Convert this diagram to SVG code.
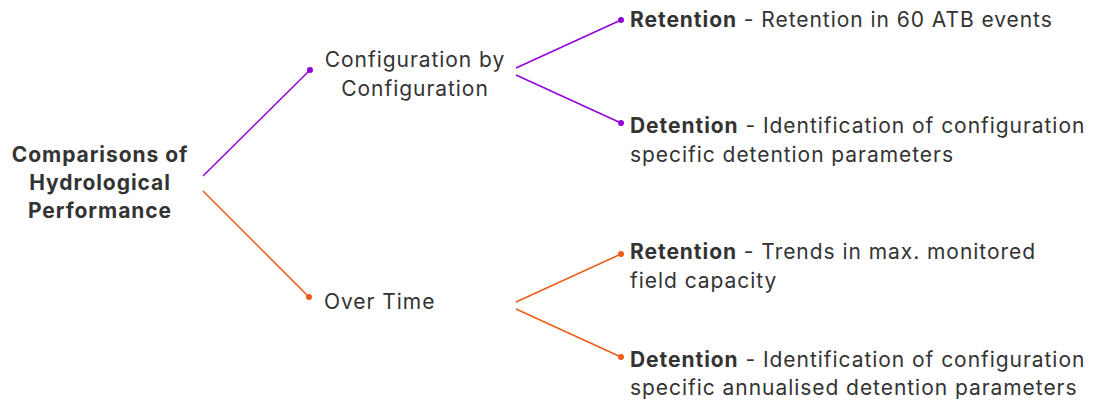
<svg xmlns="http://www.w3.org/2000/svg" width="1095" height="403" viewBox="0 0 1095 403">
<style>
text{font-family:Inter,"Noto Sans",sans-serif;fill:#333;font-size:21px;letter-spacing:0.95px}
.b{font-weight:bold}
.c{text-anchor:middle}
.p{stroke:#9000d8;stroke-width:1.5;fill:none}
.o{stroke:#ef5a14;stroke-width:1.5;fill:none}
.pd{fill:#9000d8}
.od{fill:#ef5a14}
</style>
<rect width="1095" height="403" fill="#fff"/>
<g id="connectors">
<line class="p" x1="203" y1="176" x2="310" y2="70"/>
<circle class="pd" cx="310" cy="70" r="3"/>
<line class="o" x1="203" y1="191" x2="309" y2="297"/>
<circle class="od" cx="309" cy="297" r="3"/>
<line class="p" x1="516" y1="68" x2="621" y2="20"/>
<circle class="pd" cx="621" cy="20" r="3"/>
<line class="p" x1="516" y1="75" x2="621" y2="123"/>
<circle class="pd" cx="621" cy="123" r="3"/>
<line class="o" x1="516" y1="302" x2="621" y2="254"/>
<circle class="od" cx="621" cy="254" r="3"/>
<line class="o" x1="516" y1="309" x2="621" y2="357"/>
<circle class="od" cx="621" cy="357" r="3"/>
</g>
<g id="root">
<text class="b c" x="100" y="162">Comparisons of</text>
<text class="b c" x="100" y="190">Hydrological</text>
<text class="b c" x="100" y="218">Performance</text>
</g>
<g id="config">
<text class="c" x="415" y="67">Configuration by</text>
<text class="c" x="415" y="96">Configuration</text>
</g>
<g id="overtime">
<text x="324" y="309">Over Time</text>
</g>
<g id="ret1">
<text x="630" y="27"><tspan class="b">Retention</tspan> - Retention in 60 ATB events</text>
</g>
<g id="det1">
<text x="630" y="133"><tspan class="b">Detention</tspan> - Identification of configuration</text>
<text x="630" y="162">specific detention parameters</text>
</g>
<g id="ret2">
<text x="630" y="259"><tspan class="b">Retention</tspan> - Trends in max. monitored</text>
<text x="630" y="288">field capacity</text>
</g>
<g id="det2">
<text x="630" y="367"><tspan class="b">Detention</tspan> - Identification of configuration</text>
<text x="630" y="395">specific annualised detention parameters</text>
</g>
</svg>
